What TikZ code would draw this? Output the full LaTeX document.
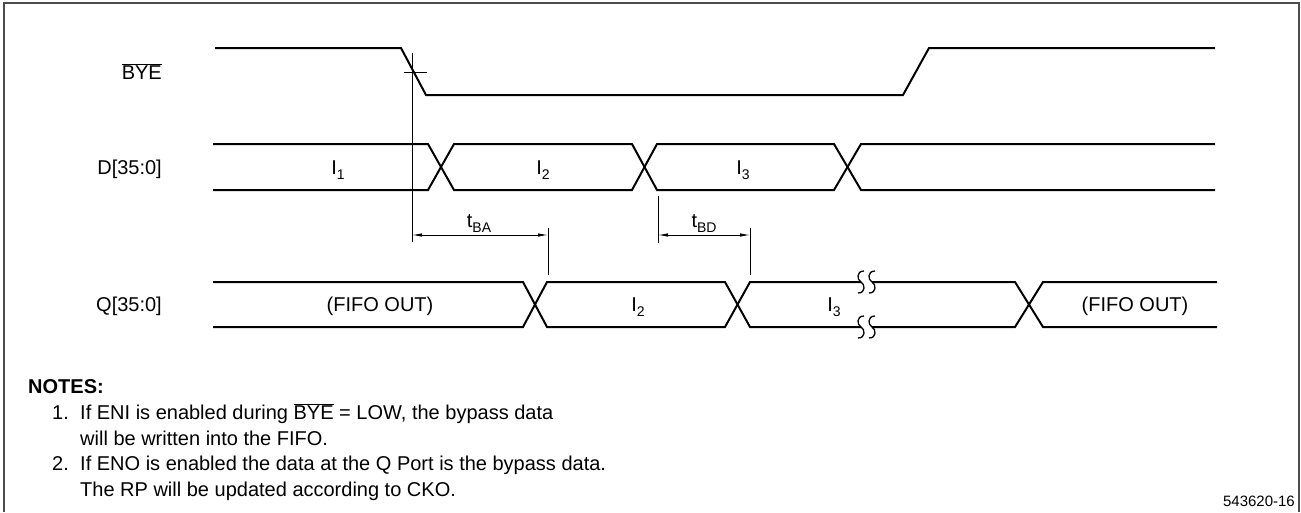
\documentclass[tikz,border=0pt]{standalone}
\usepackage{fontspec}
\setmainfont{Liberation Sans}
\usetikzlibrary{arrows.meta}
\newcommand\mysub[1]{\raisebox{-0.25em}{\fontsize{14}{14}\selectfont #1}}
\newcommand\ovbye{$\overline{\hbox{BYE}}$}
\begin{document}
\begin{tikzpicture}[x=1pt,y=-1pt,
  sig/.style={line width=2pt,line join=miter},
  fine/.style={line width=0.9pt},
  frame/.style={line width=1.3pt,draw=black!70},
  dim/.style={fine,{Latex[length=10pt,width=3.5pt]}-{Latex[length=10pt,width=3.5pt]}},
  lbl/.style={inner sep=0pt,font=\fontsize{20}{25}\selectfont},
  brkmark/.pic={\draw[line width=1.3pt] (3,-11) .. controls (-5,-11) and (-4,-2) .. (0,0) .. controls (4,2) and (5,11) .. (-3,11);}
]
\useasboundingbox (0,0) rectangle (1301,512);
% frame
\draw[frame] (4,512) -- (4,3) -- (1299,3) -- (1299,512);

% signal names
\node[lbl,anchor=base east] (nbye) at (162,79) {\ovbye};
\node[lbl,anchor=base east] (nd) at (162,174) {D[35:0]};
\node[lbl,anchor=base east] (nq) at (162,311) {Q[35:0]};

% BYE waveform
\draw[sig] (215,48) -- (401,48) -- (426,95) -- (903,95) -- (929,48) -- (1215,48);
% reference line and tick
\coordinate (ref0) at (412,53);
\coordinate (refA) at (412,235);
\coordinate (refE) at (412,242);
\draw[fine] (ref0) -- (refE);
\draw[fine] (404,72) -- (427,72);

% D bus
\draw[sig] (213,144) -- (428,144) -- (454,190) -- (632,190) -- (657,144) -- (834,144) -- (861,190) -- (1215,190);
\draw[sig] (213,190) -- (428,190) -- (454,144) -- (632,144) -- (657,190) -- (834,190) -- (861,144) -- (1215,144);
\node[lbl,anchor=base] (d1) at (338,174) {I\mysub{1}};
\node[lbl,anchor=base] (d2) at (543,174) {I\mysub{2}};
\node[lbl,anchor=base] (d3) at (743,174) {I\mysub{3}};

% timing marks
\coordinate (baT) at (548,228);
\coordinate (baA) at (548,235);
\coordinate (baB) at (548,275);
\draw[fine] (baT) -- (baB);
\draw[dim] (refA) -- (baA);
\node[lbl,anchor=base] (tba) at (479,227) {t\mysub{BA}};

\coordinate (bd0) at (658,196);
\coordinate (bdA) at (658,235);
\coordinate (bdE) at (658,243);
\draw[fine] (bd0) -- (bdE);
\coordinate (beT) at (750,228);
\coordinate (beA) at (750,235);
\coordinate (beB) at (750,275);
\draw[fine] (beT) -- (beB);
\draw[dim] (bdA) -- (beA);
\node[lbl,anchor=base] (tbd) at (704,227) {t\mysub{BD}};

% Q bus
\draw[sig] (213,282) -- (523,282) -- (547,327) -- (725,327) -- (750,282) -- (861,282);
\draw[sig] (872,282) -- (1015,282) -- (1043,327) -- (1217,327);
\draw[sig] (213,327) -- (523,327) -- (547,282) -- (725,282) -- (750,327) -- (861,327);
\draw[sig] (872,327) -- (1015,327) -- (1043,282) -- (1217,282);
\pic at (861,282) {brkmark};
\pic at (872,282) {brkmark};
\pic at (861,327) {brkmark};
\pic at (872,327) {brkmark};
\node[lbl,anchor=base] (q1) at (380,311) {(FIFO OUT)};
\node[lbl,anchor=base] (q2) at (638,311) {I\mysub{2}};
\node[lbl,anchor=base] (q3) at (834,311) {I\mysub{3}};
\node[lbl,anchor=base] (q4) at (1135,311) {(FIFO OUT)};

% notes
\node[lbl,anchor=base west] (notes) at (28,393) {\textbf{NOTES:}};
\node[lbl,anchor=base west] (n1) at (52,419) {1.};
\node[lbl,anchor=base west] (n1a) at (80,419) {If ENI is enabled during \ovbye{} = LOW, the bypass data};
\node[lbl,anchor=base west] (n1b) at (80,445) {will be written into the FIFO.};
\node[lbl,anchor=base west] (n2) at (52,470) {2.};
\node[lbl,anchor=base west] (n2a) at (80,470) {If ENO is enabled the data at the Q Port is the bypass data.};
\node[lbl,anchor=base west] (n2b) at (80,496) {The RP will be updated according to CKO.};

\node[inner sep=0pt,font=\fontsize{15}{18}\selectfont,anchor=base east] (fig) at (1295,506) {543620-16};
\end{tikzpicture}
\end{document}
